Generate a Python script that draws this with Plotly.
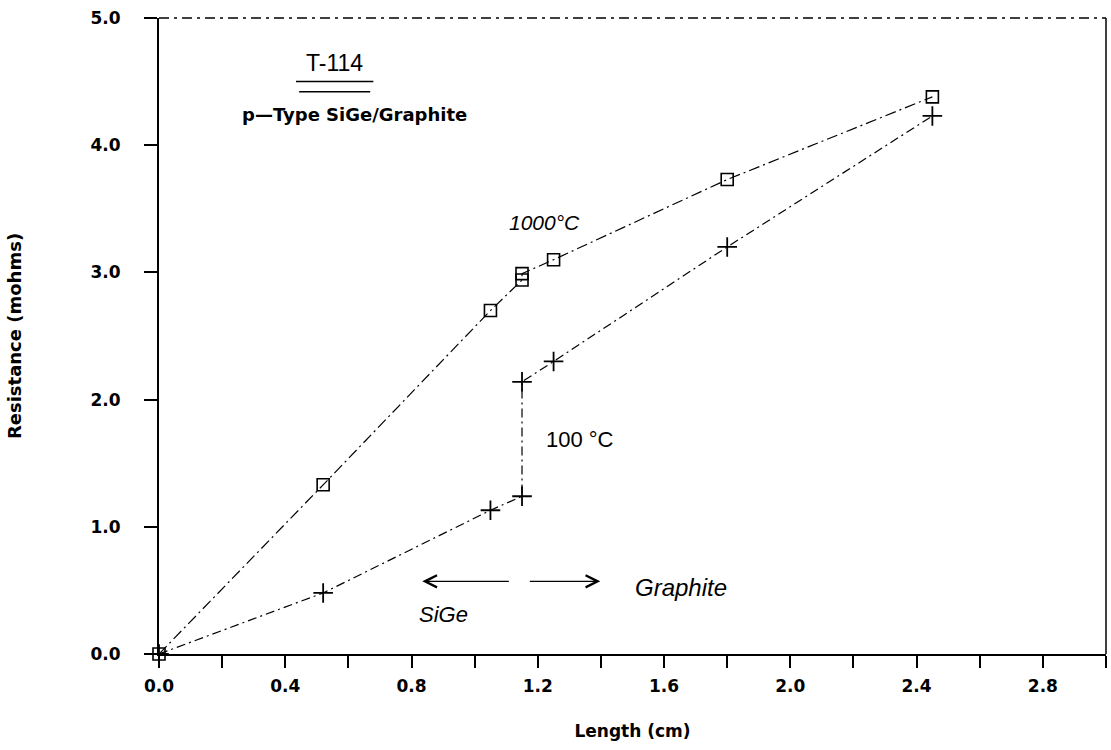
import plotly.graph_objects as go

# ---- data ----
length_cm = [0.0, 0.52, 1.05, 1.15, 1.15, 1.25, 1.80, 2.45]
res_1000C = [0.0, 1.33, 2.70, 2.94, 2.99, 3.10, 3.73, 4.38]
res_100C = [0.0, 0.48, 1.13, 1.24, 2.14, 2.30, 3.20, 4.23]

x_ticks = [0.0, 0.4, 0.8, 1.2, 1.6, 2.0, 2.4, 2.8]
y_ticks = [0.0, 1.0, 2.0, 3.0, 4.0, 5.0]

LABEL_FONT = dict(family="DejaVu Sans", size=17, color="black", weight="bold")
HAND_FONT = "Liberation Sans"

fig = go.Figure()

fig.add_trace(go.Scatter(
    x=length_cm, y=res_1000C, mode="lines+markers", name="1000°C",
    line=dict(color="black", width=1.2, dash="11px,4px,2px,4px"),
    marker=dict(symbol="square-open", size=12, color="black",
                line=dict(width=1.6, color="black")),
    cliponaxis=False, showlegend=False,
))
fig.add_trace(go.Scatter(
    x=length_cm, y=res_100C, mode="lines+markers", name="100°C",
    line=dict(color="black", width=1.2, dash="9px,4px,2px,4px"),
    marker=dict(symbol="cross-thin", size=14, color="black",
                line=dict(width=1.8, color="black")),
    cliponaxis=False, showlegend=False,
))

annotations = [
    dict(x=0.555, y=4.65, text="T-114", showarrow=False,
         font=dict(family=HAND_FONT, size=23, color="black")),
    dict(x=0.255, y=4.24, text="p\u2014Type SiGe/Graphite", showarrow=False,
         xanchor="left", font=dict(family="DejaVu Sans", size=18, color="black", weight="bold")),
    dict(x=1.22, y=3.39, text="1000°C", showarrow=False,
         font=dict(family=HAND_FONT, size=21, color="black", style="italic")),
    dict(x=1.335, y=1.69, text="100 °C", showarrow=False,
         font=dict(family=HAND_FONT, size=22, color="black")),
    dict(x=1.655, y=0.52, text="Graphite", showarrow=False,
         font=dict(family=HAND_FONT, size=24, color="black", style="italic")),
    dict(x=0.90, y=0.31, text="SiGe", showarrow=False,
         font=dict(family=HAND_FONT, size=22, color="black", style="italic")),
    # arrows
    dict(x=0.834, y=0.571, ax=1.113, ay=0.571, xref="x", yref="y",
         axref="x", ayref="y", text="", showarrow=True,
         arrowhead=5, arrowsize=1.7, arrowwidth=1.4, arrowcolor="black"),
    dict(x=1.398, y=0.571, ax=1.17, ay=0.571, xref="x", yref="y",
         axref="x", ayref="y", text="", showarrow=True,
         arrowhead=5, arrowsize=1.7, arrowwidth=1.4, arrowcolor="black"),
]

shapes = [
    # double underline under T-114
    dict(type="line", x0=0.434, x1=0.679, y0=4.50, y1=4.50, xref="x", yref="y",
         line=dict(color="black", width=1.5)),
    dict(type="line", x0=0.444, x1=0.669, y0=4.42, y1=4.42, xref="x", yref="y",
         line=dict(color="black", width=1.5)),
    # top and right frame
    dict(type="line", x0=0, x1=1, y0=1, y1=1, xref="x domain", yref="y domain",
         line=dict(color="black", width=1.3, dash="10px,5px,3px,5px")),
    dict(type="line", x0=1, x1=1, y0=0, y1=1, xref="x domain", yref="y domain",
         line=dict(color="black", width=1.5)),
]

fig.update_layout(
    width=1111, height=750,
    margin=dict(l=159, r=5, t=18, b=96),
    paper_bgcolor="white", plot_bgcolor="white",
    annotations=annotations, shapes=shapes,
    xaxis=dict(
        range=[0, 3.0], showgrid=False, zeroline=False,
        showline=True, linecolor="black", linewidth=2,
        tickmode="array", tickvals=x_ticks, ticktext=[f"{v:.1f}" for v in x_ticks],
        ticks="outside", ticklen=12, tickwidth=1.5, tickcolor="black",
        ticklabelstandoff=4,
        minor=dict(dtick=0.2, tick0=0, ticks="outside", ticklen=12,
                   tickwidth=1.5, tickcolor="black", showgrid=False),
        tickfont=LABEL_FONT,
        title=dict(text="Length (cm)", font=LABEL_FONT, standoff=30),
    ),
    yaxis=dict(
        range=[0, 5.0], showgrid=False, zeroline=False,
        showline=True, linecolor="black", linewidth=2,
        tickmode="array", tickvals=y_ticks, ticktext=[f"{v:.1f}" for v in y_ticks],
        ticks="outside", ticklen=13, tickwidth=1.5, tickcolor="black",
        ticklabelstandoff=20,
        tickfont=LABEL_FONT,
        title=dict(text="Resistance (mohms)",
                   font=dict(family="DejaVu Sans", size=18, color="black", weight="bold"),
                   standoff=64),
    ),
)

fig.write_html("out.html")
